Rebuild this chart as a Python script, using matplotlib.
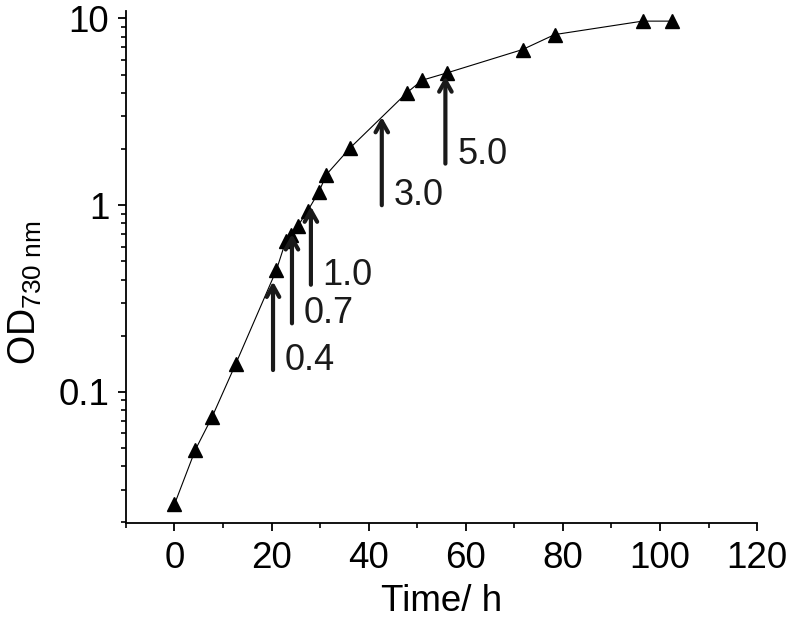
import matplotlib
matplotlib.use("Agg")
import matplotlib.pyplot as plt
from matplotlib.ticker import MultipleLocator, LogLocator, NullFormatter, FixedLocator, FixedFormatter

plt.rcParams['font.family'] = ['Liberation Sans', 'DejaVu Sans']
plt.rcParams['mathtext.fontset'] = 'custom'
plt.rcParams['mathtext.rm'] = 'Liberation Sans'
plt.rcParams['mathtext.it'] = 'Liberation Sans:italic'

# Data
time_h = [0, 4.3, 7.7, 12.6, 21.0, 22.9, 24.1, 25.35, 27.4, 29.75, 31.3, 36.2,
          47.9, 51.0, 56.1, 71.7, 78.3, 96.4, 102.4]
od730 = [0.025, 0.049, 0.073, 0.141, 0.45, 0.64, 0.695, 0.77, 0.93, 1.18, 1.46, 2.03,
         4.01, 4.67, 5.11, 6.82, 8.2, 9.68, 9.68]

# Sampling arrows
arrow_time = [20.3, 24.2, 28.1, 42.7, 55.8]
arrow_base = [0.131, 0.233, 0.375, 1.0, 1.67]
arrow_tip = [0.39, 0.70, 0.985, 2.97, 4.9]
arrow_labels = ["0.4", "0.7", "1.0", "3.0", "5.0"]

x_ticks = [0, 20, 40, 60, 80, 100, 120]
y_ticks = [0.1, 1, 10]
y_ticklabels = ["0.1", "1", "10"]

fig = plt.figure(figsize=(7.87, 6.33), dpi=100)
ax = fig.add_axes([0.160, 0.174, 0.802, 0.809])

ax.plot(time_h, od730, color='black', lw=0.8, marker='^', ms=9.5,
        markerfacecolor='black', markeredgecolor='black', zorder=3)

for t, b, tp, lab in zip(arrow_time, arrow_base, arrow_tip, arrow_labels):
    ax.annotate('', xy=(t, tp), xytext=(t, b),
                arrowprops=dict(arrowstyle='->,head_length=0.8,head_width=0.45',
                                color='#1a1a1a', lw=3.0, shrinkA=0, shrinkB=0),
                zorder=4)
    ax.annotate(lab, xy=(t, b), xytext=(8.5, 0), textcoords='offset points',
                ha='left', va='baseline', fontsize=26, color='#1a1a1a')

ax.set_yscale('log')
ax.set_xlim(-10, 120)
ax.set_ylim(0.0199, 11.0)

ax.xaxis.set_major_locator(FixedLocator(x_ticks))
ax.xaxis.set_minor_locator(MultipleLocator(10))
ax.yaxis.set_major_locator(FixedLocator(y_ticks))
ax.yaxis.set_major_formatter(FixedFormatter(y_ticklabels))
ax.yaxis.set_minor_locator(LogLocator(base=10, subs=range(2, 10)))
ax.yaxis.set_minor_formatter(NullFormatter())

for s in ['top', 'right']:
    ax.spines[s].set_visible(False)
for s in ['left', 'bottom']:
    ax.spines[s].set_linewidth(1.3)

ax.tick_params(axis='both', which='major', direction='out', length=6, width=1.3,
               labelsize=26.5, colors='black')
ax.tick_params(axis='both', which='minor', direction='out', length=3.5, width=1.2)
ax.tick_params(axis='x', which='major', pad=7)
ax.tick_params(axis='y', which='major', pad=6)

ax.set_xlabel('Time/ h', fontsize=26.5, labelpad=6)
ax.set_ylabel(r'OD$_{\mathrm{730\ nm}}$', fontsize=27)
ax.yaxis.set_label_coords(-0.13, 0.45)

fig.savefig('out.png', dpi=100)
